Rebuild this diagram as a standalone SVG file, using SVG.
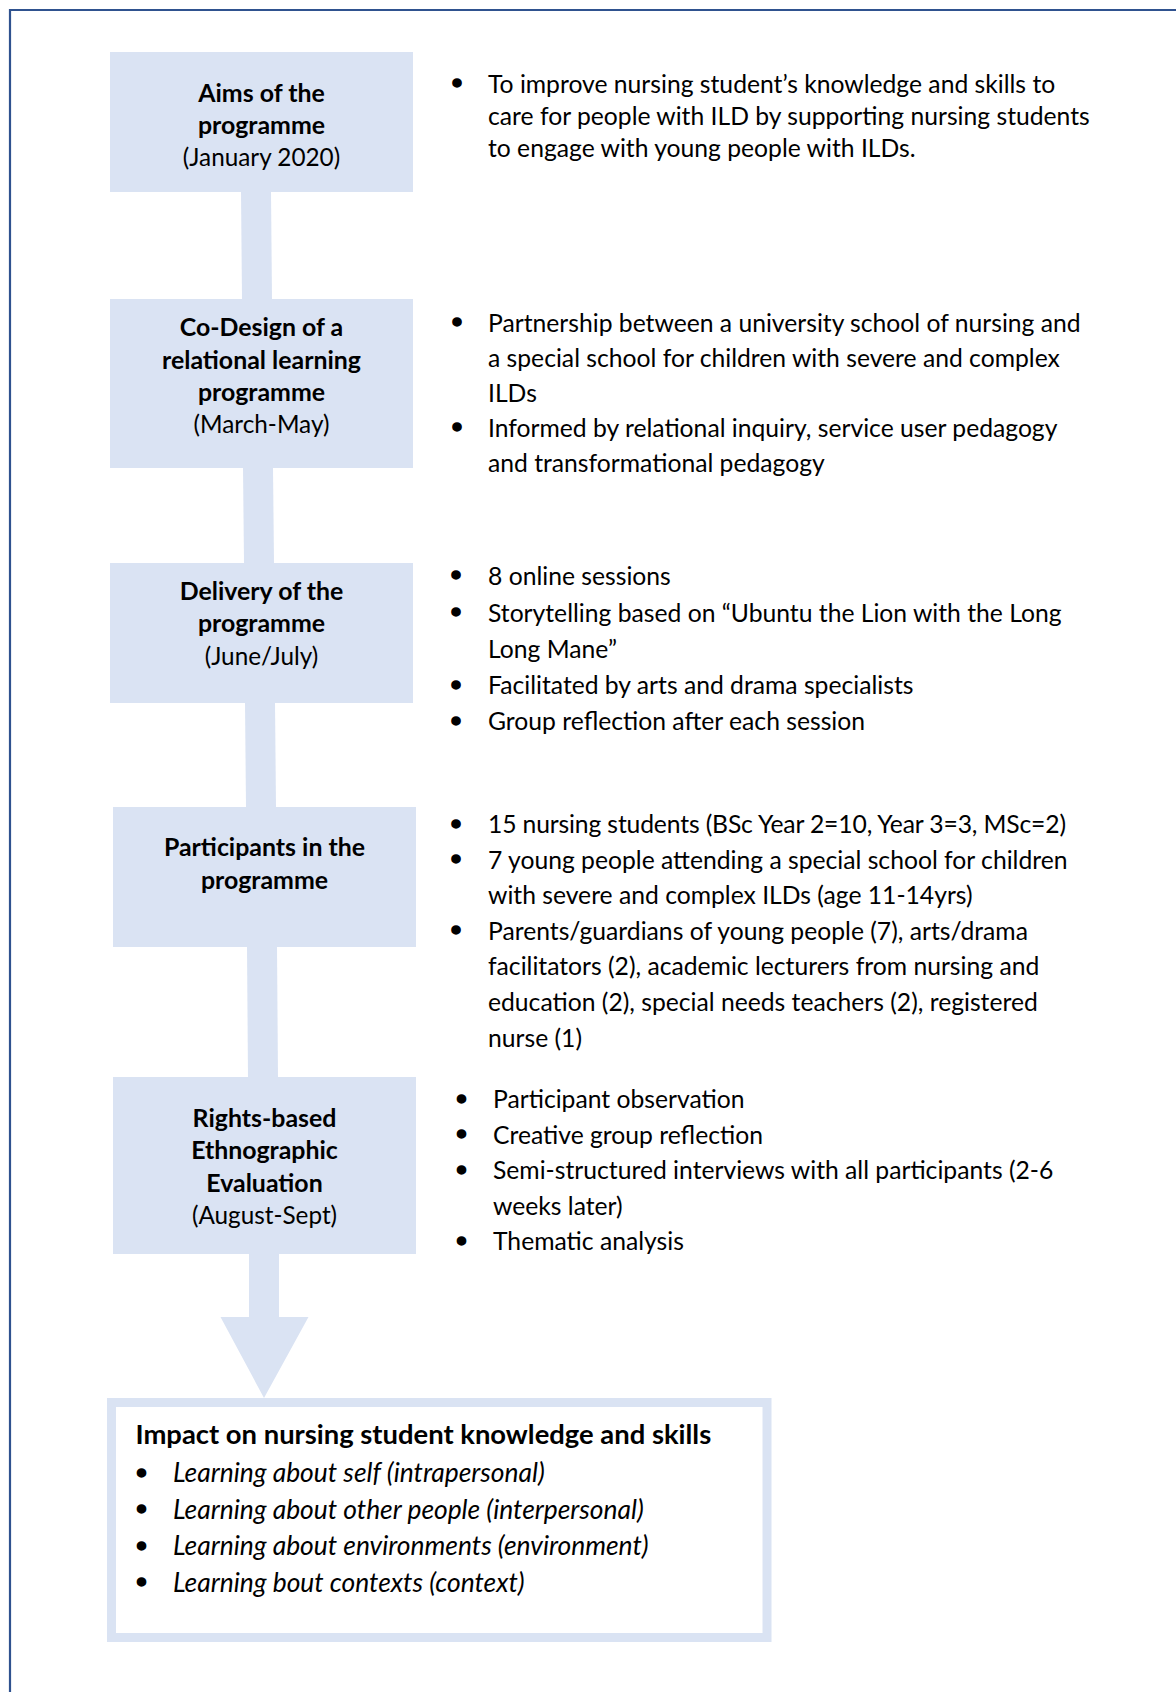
<svg xmlns="http://www.w3.org/2000/svg" width="1176" height="1692" viewBox="0 0 1176 1692">
<style>
.box{fill:#dae3f3;}
.conn{fill:#dae3f3;}
.t{font-family:Lato,"Liberation Sans",sans-serif;font-size:24.7px;fill:#000;}
.bx{font-family:Lato,"Liberation Sans",sans-serif;font-size:24.3px;fill:#000;text-anchor:middle;}
.bb{font-weight:bold;font-size:24.9px;}
.h{font-weight:bold;font-size:27.4px;}
.i{font-style:italic;font-size:26.4px;}
.bul{font-family:"Liberation Sans",sans-serif;font-size:30px;text-anchor:middle;fill:#000;stroke:#000;stroke-width:1.5px;}
</style>
<rect x="0" y="0" width="1176" height="1692" fill="#ffffff"/>
<path d="M10,1692 V10 H1176" fill="none" stroke="#2f528f" stroke-width="2.2"/>

<g id="connectors">
  <polygon class="conn" points="241,191 271,191 272,300 242,300"/>
  <polygon class="conn" points="243,467 273,467 274,564 244,564"/>
  <polygon class="conn" points="245,702 275,702 276,808 246,808"/>
  <polygon class="conn" points="247,946 277,946 278,1079 248,1079"/>
  <polygon class="conn" points="249,1253 279,1253 279,1317 308.5,1317 264,1398 220.5,1317 249,1317"/>
</g>

<g id="node-aims">
  <rect class="box" x="110" y="52" width="303" height="140"/>
  <text class="bx bb" x="261.5" y="101.5">Aims of the</text>
  <text class="bx bb" x="261.5" y="133.5">programme</text>
  <text class="bx" x="261.5" y="165.5">(January 2020)</text>
</g>
<g id="node-aims-text">
  <text class="bul" x="457" y="93">•</text>
  <text class="t" x="488" y="92.5">To improve nursing student’s knowledge and skills to</text>
  <text class="t" x="488" y="124.5">care for people with ILD by supporting nursing students</text>
  <text class="t" x="488" y="156.5">to engage with young people with ILDs.</text>
</g>

<g id="node-codesign">
  <rect class="box" x="110" y="299" width="303" height="169"/>
  <text class="bx bb" x="261.5" y="336">Co-Design of a</text>
  <text class="bx bb" x="261.5" y="368.5">relational learning</text>
  <text class="bx bb" x="261.5" y="400.5">programme</text>
  <text class="bx" x="261.5" y="432.5">(March-May)</text>
</g>
<g id="node-codesign-text">
  <text class="bul" x="457" y="332">•</text>
  <text class="t" x="488" y="331.5">Partnership between a university school of nursing and</text>
  <text class="t" x="488" y="366.5">a special school for children with severe and complex</text>
  <text class="t" x="488" y="401.5">ILDs</text>
  <text class="bul" x="457" y="437">•</text>
  <text class="t" x="488" y="436.5">Informed by relational inquiry, service user pedagogy</text>
  <text class="t" x="488" y="471.5">and transformational pedagogy</text>
</g>

<g id="node-delivery">
  <rect class="box" x="110" y="563" width="303" height="140"/>
  <text class="bx bb" x="261.5" y="600">Delivery of the</text>
  <text class="bx bb" x="261.5" y="632">programme</text>
  <text class="bx" x="261.5" y="664.5">(June/July)</text>
</g>
<g id="node-delivery-text">
  <text class="bul" x="456" y="585">•</text>
  <text class="t" x="488" y="584.5">8 online sessions</text>
  <text class="bul" x="456" y="622">•</text>
  <text class="t" x="488" y="621.5">Storytelling based on “Ubuntu the Lion with the Long</text>
  <text class="t" x="488" y="657.5">Long Mane”</text>
  <text class="bul" x="456" y="694.5">•</text>
  <text class="t" x="488" y="694">Facilitated by arts and drama specialists</text>
  <text class="bul" x="456" y="730.5">•</text>
  <text class="t" x="488" y="730">Group reflection after each session</text>
</g>

<g id="node-participants">
  <rect class="box" x="113" y="807" width="303" height="140"/>
  <text class="bx bb" x="264.5" y="856">Participants in the</text>
  <text class="bx bb" x="264.5" y="888.5">programme</text>
</g>
<g id="node-participants-text">
  <text class="bul" x="456" y="833.5">•</text>
  <text class="t" x="488" y="833" textLength="578">15 nursing students (BSc Year 2=10, Year 3=3, MSc=2)</text>
  <text class="bul" x="456" y="869">•</text>
  <text class="t" x="488" y="868.5">7 young people attending a special school for children</text>
  <text class="t" x="488" y="904">with severe and complex ILDs (age 11-14yrs)</text>
  <text class="bul" x="456" y="940">•</text>
  <text class="t" x="488" y="939.5">Parents/guardians of young people (7), arts/drama</text>
  <text class="t" x="488" y="975">facilitators (2), academic lecturers from nursing and</text>
  <text class="t" x="488" y="1010.5">education (2), special needs teachers (2), registered</text>
  <text class="t" x="488" y="1046.5">nurse (1)</text>
</g>

<g id="node-evaluation">
  <rect class="box" x="113" y="1077" width="303" height="177"/>
  <text class="bx bb" x="264.5" y="1126.5">Rights-based</text>
  <text class="bx bb" x="264.5" y="1159">Ethnographic</text>
  <text class="bx bb" x="264.5" y="1191.5">Evaluation</text>
  <text class="bx" x="264.5" y="1224">(August-Sept)</text>
</g>
<g id="node-evaluation-text">
  <text class="bul" x="461.5" y="1108.5">•</text>
  <text class="t" x="493" y="1108">Participant observation</text>
  <text class="bul" x="461.5" y="1144">•</text>
  <text class="t" x="493" y="1143.5">Creative group reflection</text>
  <text class="bul" x="461.5" y="1179.5">•</text>
  <text class="t" x="493" y="1179">Semi-structured interviews with all participants (2-6</text>
  <text class="t" x="493" y="1214.5">weeks later)</text>
  <text class="bul" x="461.5" y="1250.5">•</text>
  <text class="t" x="493" y="1250">Thematic analysis</text>
</g>

<g id="node-impact">
  <rect x="111.5" y="1402.5" width="655.5" height="235" fill="#ffffff" stroke="#dae3f3" stroke-width="9"/>
  <text class="t h" x="135.5" y="1444">Impact on nursing student knowledge and skills</text>
  <text class="bul" x="141.5" y="1482.5">•</text>
  <text class="t i" x="173" y="1482">Learning about self (intrapersonal)</text>
  <text class="bul" x="141.5" y="1519">•</text>
  <text class="t i" x="173" y="1518.5">Learning about other people (interpersonal)</text>
  <text class="bul" x="141.5" y="1555.5">•</text>
  <text class="t i" x="173" y="1555">Learning about environments (environment)</text>
  <text class="bul" x="141.5" y="1592">•</text>
  <text class="t i" x="173" y="1591.5">Learning bout contexts (context)</text>
</g>
</svg>
